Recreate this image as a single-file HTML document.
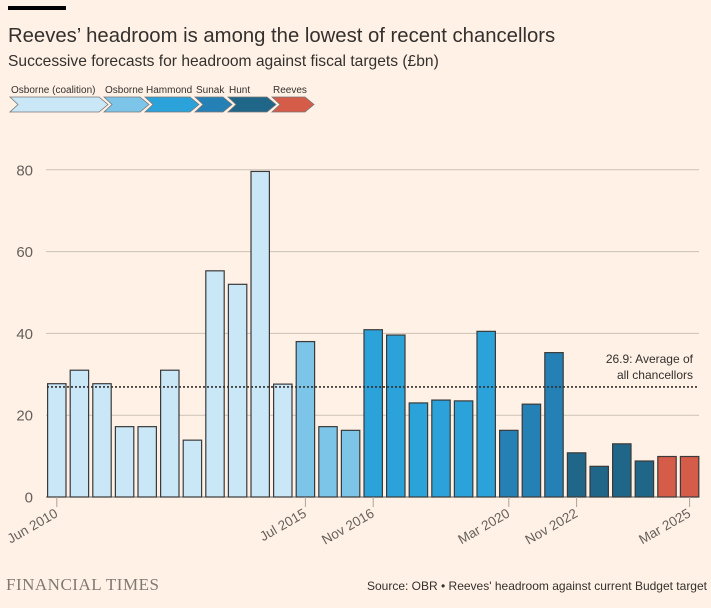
<!DOCTYPE html>
<html><head><meta charset="utf-8"><style>
body{margin:0;background:#fff1e5;width:711px;height:608px;overflow:hidden;font-family:"Liberation Sans",sans-serif;}
svg{display:block}
</style></head><body>
<svg width="711" height="608">
<rect x="8" y="6" width="58" height="4" fill="#000"/>
<text x="8" y="42" font-size="20.3" fill="#33302e">Reeves’ headroom is among the lowest of recent chancellors</text>
<text x="8" y="66" font-size="15.6" fill="#33302e">Successive forecasts for headroom against fiscal targets (£bn)</text>
<g id="legend"></g>
<g id="grid"></g>
<g id="bars"></g>
<line x1="47" x2="699" y1="387" y2="387" stroke="#33302e" stroke-width="1.6" stroke-dasharray="2,2" id="avg"/>
<text x="693" y="363" font-size="12" fill="#33302e" text-anchor="end">26.9: Average of</text>
<text x="693" y="379" font-size="12" fill="#33302e" text-anchor="end">all chancellors</text>
<g id="xt"></g>
<text x="6" y="590" font-size="17" fill="#807973" font-family="Liberation Serif,serif" letter-spacing="0.5">FINANCIAL TIMES</text>
<text x="707" y="590" font-size="12" fill="#33302e" text-anchor="end">Source: OBR • Reeves' headroom against current Budget target</text>
</svg>
<script>
const values=[27.7,31,27.7,17.2,17.2,31,13.9,55.3,52,79.6,27.6,38,17.2,16.3,40.9,39.6,23,23.7,23.5,40.5,16.3,22.7,35.3,10.8,7.5,13,8.8,9.9,9.9];
const groups=[0,0,0,0,0,0,0,0,0,0,0,1,1,1,2,2,2,2,2,2,3,3,3,4,4,4,4,5,5];
const groupNames=["Osborne (coalition)","Osborne","Hammond","Sunak","Hunt","Reeves"];
const yTicks=[0,20,40,60,80];
const average=26.9;
const xLabels=[[0,"Jun 2010"],[11,"Jul 2015"],[14,"Nov 2016"],[20,"Mar 2020"],[23,"Nov 2022"],[28,"Mar 2025"]];
const colors=["#c9e7f6","#7cc5e8","#2ba3da","#2581b5","#1f6688","#d65c4a"];
const ns="http://www.w3.org/2000/svg";
const y=v=>497-v*4.09, bx=i=>47.6+i*22.6, bw=18.4;
function mk(t,a,p){const e=document.createElementNS(ns,t);for(const k in a)e.setAttribute(k,a[k]);p.appendChild(e);return e;}
const G=document.getElementById('grid');
yTicks.forEach(t=>{
 const l=mk('line',{x1:46,x2:699,y1:y(t),y2:y(t),stroke:t?'#ccc1b7':'#66605c','stroke-width':1},G);
 
 
 const tx=mk('text',{x:33,y:y(t)+5.5,'font-size':15,fill:'#66605c','text-anchor':'end'},G);tx.textContent=t;
 
 
});
const B=document.getElementById('bars');
values.forEach((v,i)=>{
 const r=mk('rect',{x:bx(i),y:y(v),width:bw,height:497-y(v),fill:colors[groups[i]],stroke:'#3a3a3a','stroke-width':1.2},B);
 
 
});
const av=document.getElementById('avg');av.setAttribute('y1',y(average));av.setAttribute('y2',y(average));
const X=document.getElementById('xt');
xLabels.forEach(([i,s])=>{
 const cx=bx(i)+bw/2;
 mk('line',{x1:cx,x2:cx,y1:497,y2:507,stroke:'#aaa39c','stroke-width':1},X);
 const t=mk('text',{x:cx+2,y:516,'font-size':13.5,fill:'#66605c','text-anchor':'end',transform:`rotate(-30 ${cx+2} 516)`},X);t.textContent=s;
 
 
});
const L=document.getElementById('legend');
const lx=[10,104,145,195,228,272,310];
groupNames.forEach((n,i)=>{
 const a=lx[i],b=lx[i+1];
 const p=mk('polygon',{points:`${a},97 ${b-5},97 ${b+4},104.5 ${b-5},112 ${a},112 ${a+8},104.5`,fill:colors[i],stroke:'#777','stroke-width':0.8},L);
 
 
 const t=mk('text',{x:a+1,y:93,'font-size':10,fill:'#33302e'},L);t.textContent=n;
 
 
});
</script>
</body></html>
